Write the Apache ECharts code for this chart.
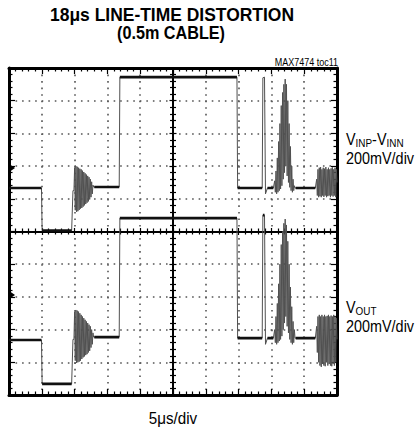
<!DOCTYPE html>
<html><head><meta charset="utf-8">
<script src="https://cdn.jsdelivr.net/npm/echarts@6/dist/echarts.min.js"></script>
<style>html,body{margin:0;padding:0;background:#fff}#c{width:417px;height:430px}</style>
</head><body><div id="c"></div>
<script>
// Horizontal: time in divisions (5 µs/div), screen centre = 0. Vertical: divisions (200 mV/div), centre = 0.
const xRange = [-5, 5];
const yRange = [-5, 5];
const burstStep = 0.02; // sample spacing (div) of the typed burst samples

// ---- VINP - VINN trace ----
const vinSeg1 = [[-5,1.33],[-4.01,1.33],[-3.99,0.03],[-3.09,0.03],[-3.05,1.25]];
const vinBurst1Start = -3.02;
const vinBurst1 = [1.25,1.95,0.65,2.0,0.6,1.98,0.62,1.95,0.66,1.92,0.7,1.9,0.72,1.86,0.76,1.82,0.8,1.78,0.84,1.74,0.88,1.7,0.92,1.66,0.98,1.6,1.05,1.52,1.15,1.42,1.36];
const vinSeg2 = [[-2.40,1.36],[-1.64,1.36],[-1.62,4.72],[1.95,4.72],[1.97,1.33],[2.72,1.33],[2.74,4.70],[2.79,4.72],[2.82,1.15],[2.88,1.33],[3.06,1.33]];
const vinBurst2Start = 3.08;
const vinBurst2 = [1.33,1.55,1.2,1.85,1.15,2.25,1.2,2.75,1.25,3.3,1.3,3.85,1.4,4.25,1.6,4.5,1.8,4.66,2.0,4.5,1.7,4.0,1.5,3.3,1.35,2.6,1.25,2.0,1.2,1.6,1.25,1.4,1.33];
const vinSeg3 = [[3.74,1.33],[4.34,1.33]];
const vinBurst3Start = 4.36;
const vinBurst3 = [1.33,1.6,1.1,1.9,1.05,1.95,1.08,1.97,1.05,1.9,1.1,1.95,1.06,1.92,1.1,1.97,1.05,1.9,1.08,1.95,1.1,1.9,1.05,1.93,1.1,1.96,1.07,1.9,1.1,1.95,1.05,1.9,1.5];

// ---- VOUT trace ----
const voutSeg1 = [[-5,-3.32],[-4.01,-3.32],[-3.99,-4.66],[-3.09,-4.66],[-3.05,-3.3]];
const voutBurst1Start = -3.02;
const voutBurst1 = [-3.3,-2.45,-3.95,-2.4,-4.02,-2.42,-4.0,-2.45,-3.98,-2.5,-3.95,-2.55,-3.9,-2.6,-3.85,-2.65,-3.82,-2.7,-3.78,-2.75,-3.75,-2.8,-3.7,-2.85,-3.65,-2.9,-3.55,-3.0,-3.45,-3.1,-3.23];
const voutSeg2 = [[-2.40,-3.23],[-1.64,-3.23],[-1.62,0.41],[1.95,0.41],[1.97,-3.26],[2.72,-3.26],[2.74,0.5],[2.79,0.5],[2.82,-3.45],[2.88,-3.26],[3.06,-3.26]];
const voutBurst2Start = 3.08;
const voutBurst2 = [-3.26,-3.0,-3.4,-2.6,-3.45,-2.2,-3.4,-1.6,-3.35,-1.0,-3.3,-0.4,-3.2,0.0,-3.0,0.25,-2.8,0.38,-2.6,0.2,-2.9,-0.3,-3.1,-1.0,-3.3,-1.7,-3.4,-2.3,-3.45,-2.75,-3.4,-3.0,-3.26];
const voutSeg3 = [[3.74,-3.26],[4.34,-3.26]];
const voutBurst3Start = 4.36;
const voutBurst3 = [-3.26,-2.9,-3.7,-2.6,-4.0,-2.55,-4.1,-2.6,-4.14,-2.55,-4.05,-2.6,-4.1,-2.55,-4.12,-2.6,-4.0,-2.58,-4.1,-2.55,-4.05,-2.6,-4.1,-2.57,-4.12,-2.6,-4.05,-2.55,-4.1,-2.6,-4.0,-2.65,-3.3];

// channel ground markers at left edge
const markerLevels = [1.94, -1.94];

// ---- texts ----
const titleLine1 = '18\u03bcs LINE-TIME DISTORTION';
const titleLine2 = '(0.5m CABLE)';
const figId = 'MAX7474 toc11';
const xLabel = '5\u03bcs/div';
const scaleLabel = '200mV/div';

function burstPts(start, vals){ return vals.map((v,i)=>[+(start+i*burstStep).toFixed(4), v]); }
function buildTrace(s1,b1s,b1,s2,b2s,b2,s3,b3s,b3){
  return [].concat(s1, burstPts(b1s,b1), s2, burstPts(b2s,b2), s3, burstPts(b3s,b3));
}
function flatSegs(segs){
  const out=[];
  segs.forEach(s=>{ for(let i=0;i<s.length-1;i++){ if(Math.abs(s[i][1]-s[i+1][1])<1e-9) out.push([s[i],s[i+1]]); } });
  return out;
}
const vinTrace = buildTrace(vinSeg1,vinBurst1Start,vinBurst1,vinSeg2,vinBurst2Start,vinBurst2,vinSeg3,vinBurst3Start,vinBurst3);
const voutTrace = buildTrace(voutSeg1,voutBurst1Start,voutBurst1,voutSeg2,voutBurst2Start,voutBurst2,voutSeg3,voutBurst3Start,voutBurst3);
const flats = flatSegs([vinSeg1,vinSeg2,vinSeg3,voutSeg1,voutSeg2,voutSeg3]);

const FONT = "'Liberation Sans',Arial,sans-serif";

function axisBase(dim, pos, onZero, inside, border, split){
  const r = dim==='x'?xRange:yRange;
  return {
    type:'value', min:r[0], max:r[1], interval:1, position:pos,
    axisLine:{show:true,onZero:onZero,lineStyle:{color:'#000',width:border?3:1.8}},
    axisTick:{show:true,inside:inside,length:border?6:3.5,lineStyle:{color:'#000',width:1.2}},
    minorTick:{show:true,splitNumber:5,length:border?3.5:3,lineStyle:{color:'#000',width:1.2}},
    axisLabel:{show:false},
    splitLine:{show:split,lineStyle:{color:'#555',width:1.6,type:[1.6,4.94],cap:'butt'}},
    minorSplitLine:{show:false}
  };
}

const series = [];
[vinTrace, voutTrace].forEach(t=>{
  series.push({type:'line',data:t,showSymbol:false,xAxisIndex:0,yAxisIndex:0,
    lineStyle:{color:'#505050',width:1.0},z:3,animation:false});
});
flats.forEach(f=>{
  series.push({type:'line',data:f,showSymbol:false,xAxisIndex:0,yAxisIndex:0,
    lineStyle:{color:'#111',width:2.6},z:4,animation:false});
});

const richLbl = {
  v:{fontSize:16,fontFamily:FONT,lineHeight:18,verticalAlign:'top',fill:'#000'},
  s:{fontSize:11,fontFamily:FONT,lineHeight:18,verticalAlign:'bottom',fill:'#000'},
  t:{fontSize:16,fontFamily:FONT,lineHeight:19,fill:'#000'}
};

const chart = echarts.init(document.getElementById('c'),null,{renderer:'svg'});
const texts = [
  {type:'text',x:172,y:15,scaleX:0.97,style:{text:titleLine1,font:"bold 18px "+FONT,fill:'#000',textAlign:'center',textVerticalAlign:'middle'}},
  {type:'text',x:171,y:33,scaleX:0.9,style:{text:titleLine2,font:"bold 18px "+FONT,fill:'#000',textAlign:'center',textVerticalAlign:'middle'}},
  {type:'text',x:338,y:62,scaleX:0.9,style:{text:figId,font:"10px "+FONT,fill:'#000',textAlign:'right',textVerticalAlign:'middle'}},
  {type:'text',x:346,y:131,scaleX:0.9,style:{text:'{v|V}{s|INP}{v|-V}{s|INN}\n{t|'+scaleLabel+'}',rich:richLbl}},
  {type:'text',x:346,y:299,scaleX:0.9,style:{text:'{v|V}{s|OUT}\n{t|'+scaleLabel+'}',rich:richLbl}},
  {type:'text',x:173,y:418,scaleX:0.95,style:{text:xLabel,font:"16px "+FONT,fill:'#000',textAlign:'center',textVerticalAlign:'middle'}}
];
chart.setOption({
  backgroundColor:'#fff',
  animation:false,
  grid:{left:9,top:68,width:328,height:327,containLabel:false},
  xAxis:[
    axisBase('x','bottom',false,true,true,true),
    axisBase('x','top',false,true,true,false),
    axisBase('x','bottom',true,true,false,false),
    axisBase('x','bottom',true,false,false,false)
  ],
  yAxis:[
    axisBase('y','left',false,true,true,true),
    axisBase('y','right',false,true,true,false),
    axisBase('y','left',true,true,false,false),
    axisBase('y','left',true,false,false,false)
  ],
  series:series,
  graphic:texts
});
// channel ground-reference markers, placed through the chart's own scales
const markers = markerLevels.map(v=>{
  const p = chart.convertToPixel({xAxisIndex:0,yAxisIndex:0},[xRange[0],v]);
  return {type:'polygon',z:100,shape:{points:[[p[0]+1,p[1]-3.5],[p[0]+6,p[1]],[p[0]+1,p[1]+3.5]]},style:{fill:'#000'}};
});
chart.setOption({graphic:texts.concat(markers)});
</script></body></html>
